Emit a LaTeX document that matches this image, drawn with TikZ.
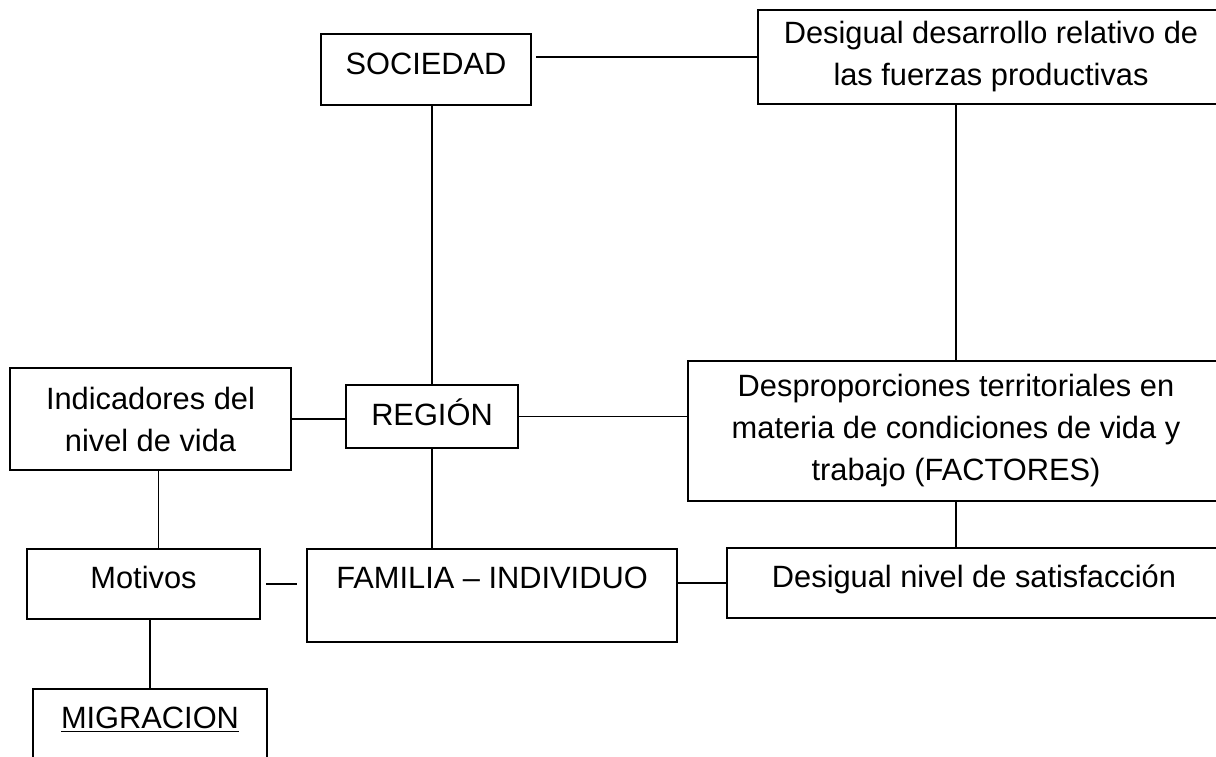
\documentclass[tikz,border=0pt]{standalone}
\usepackage{fontspec}
\setmainfont{Liberation Sans}
\newcommand{\boxfont}{\fontsize{15.4pt}{21pt}\selectfont}
\tikzset{
  box/.style={draw,line width=1pt,align=center,inner sep=0pt,font=\boxfont},
  link/.style={line width=0.9pt}
}
\begin{document}
\begin{tikzpicture}[x=0.5pt,y=-0.5pt]
\useasboundingbox (0,0) rectangle (1216,756);
% top row
\node[box,anchor=north,minimum width=105pt,text height=20pt,text depth=15.5pt] (soc) at (426,33) {SOCIEDAD};
\node[box,minimum width=233pt,minimum height=47pt] (des) at (991,57) {Desigual desarrollo relativo de\\las fuerzas productivas};
% middle row
\node[box,minimum width=140.5pt,minimum height=51pt] (ind) at (150.5,419) {Indicadores del\\nivel de vida};
\node[box,anchor=north,minimum width=86pt,text height=20pt,text depth=11.5pt] (reg) at (432,384) {REGIÓN};
\node[box,minimum width=268pt,minimum height=70pt] (dsp) at (956,431) {Desproporciones territoriales en\\materia de condiciones de vida y\\trabajo (FACTORES)};
% bottom row
\node[box,anchor=north,minimum width=116.5pt,text height=19.5pt,text depth=15.5pt] (mot) at (143.5,548) {Motivos};
\node[box,anchor=north,minimum width=185pt,text height=19.5pt,text depth=27pt] (fam) at (492,548) {FAMILIA -- INDIVIDUO};
\node[box,anchor=north,minimum width=247pt,text height=19.5pt,text depth=15.5pt] (dnv) at (974,547) {Desigual nivel de satisfacción};
\node[box,anchor=north,minimum width=117pt,text height=19.5pt,text depth=16.5pt] (mig) at (150,688) {\underline{MIGRACION}};
% links
\draw[link,shorten <=2pt] (soc.east |- des.west) -- (des.west);
\draw[link] (reg.north) -- (reg.north |- soc.south);
\draw[link] (dsp.north) -- (dsp.north |- des.south);
\draw[link] (ind.east) -- (ind.east -| reg.west);
\draw[link] (reg.east) -- (reg.east -| dsp.west);
\draw[link] ([xshift=4pt]ind.south) -- ([xshift=4pt]ind.south |- mot.north);
\draw[link] (reg.south) -- (reg.south |- fam.north);
\draw[link] (dsp.south) -- (dsp.south |- dnv.north);
\draw[link,shorten <=2.5pt,shorten >=4.5pt] (mot.east) -- (mot.east -| fam.west);
\draw[link] (fam.east |- dnv.west) -- (dnv.west);
\draw[link] (mig.north) -- (mig.north |- mot.south);
\end{tikzpicture}
\end{document}
